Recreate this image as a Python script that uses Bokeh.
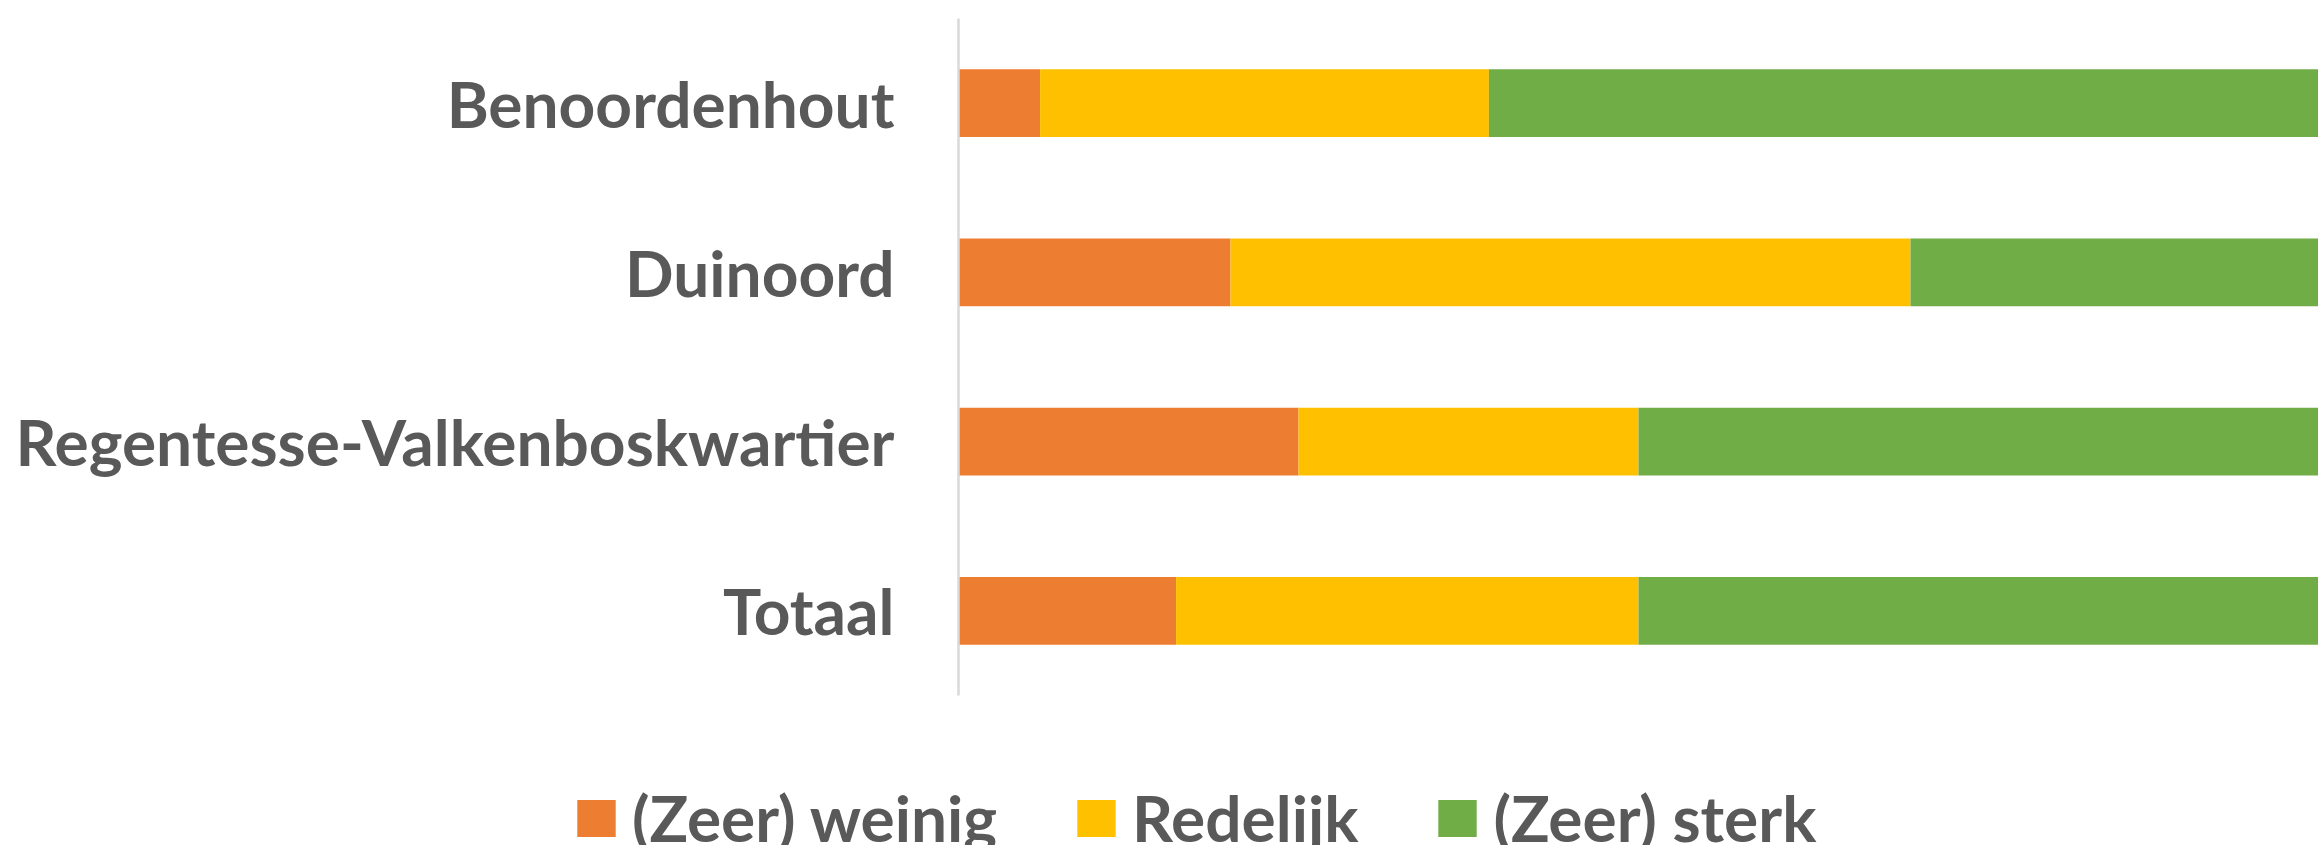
from bokeh.plotting import figure
from bokeh.models import Range1d, FactorRange, Legend, LegendItem, ColumnDataSource
from bokeh.embed import file_html
from bokeh.resources import INLINE

categories = ["Benoordenhout", "Duinoord", "Regentesse-Valkenboskwartier", "Totaal"]
weinig = [6, 20, 25, 16]
redelijk = [33, 50, 25, 34]
sterk = [61, 30, 50, 50]
series_labels = ["(Zeer) weinig", "Redelijk", "(Zeer) sterk"]
colors = ["#ED7D31", "#FFC000", "#70AD47"]
keys = ["weinig", "redelijk", "sterk"]

source = ColumnDataSource(dict(cat=categories, weinig=weinig, redelijk=redelijk, sterk=sterk))

FONT = "Lato"
TXT = "#595959"

# main chart
p = figure(width=2318, height=700,
           y_range=FactorRange(*reversed(categories)),
           x_range=Range1d(0, 100),
           output_backend="svg", toolbar_location=None,
           min_border_left=958, min_border_right=0,
           min_border_top=18, min_border_bottom=5)

p.hbar_stack(keys, y="cat", height=0.4, color=colors, line_color=None, source=source)

p.xaxis.visible = False
p.xgrid.visible = False
p.ygrid.visible = False
p.outline_line_color = None

ax = p.yaxis[0]
ax.axis_line_color = "#d9d9d9"
ax.axis_line_width = 2.5
ax.major_tick_line_color = None
ax.minor_tick_line_color = None
ax.major_tick_out = 0
ax.major_tick_in = 0
ax.major_label_standoff = 64
ax.major_label_text_font = FONT
ax.major_label_text_font_size = "64px"
ax.major_label_text_font_style = "bold"
ax.major_label_text_color = TXT

# legend strip (separate root, so its frame is not aligned to the chart's)
q = figure(width=2318, height=145,
           y_range=FactorRange(*reversed(categories)),
           x_range=Range1d(0, 100),
           output_backend="svg", toolbar_location=None,
           min_border_left=0, min_border_right=0,
           min_border_top=0, min_border_bottom=0)
q.axis.visible = False
q.grid.visible = False
q.outline_line_color = None
lrs = q.hbar_stack(keys, y="cat", height=0.4, color=colors, line_color=None, source=source)
for r in lrs:
    r.visible = False

items = [LegendItem(label=series_labels[i], renderers=[lrs[i]]) for i in range(3)]
legend = Legend(items=items, orientation="horizontal", location=(572, -11),
                glyph_width=48, glyph_height=46, label_standoff=12, spacing=75,
                padding=0, margin=0, border_line_color=None, background_fill_alpha=0,
                inactive_fill_alpha=0,
                label_text_font=FONT, label_text_font_size="64px",
                label_text_font_style="bold", label_text_color=TXT)
q.add_layout(legend, "center")

open("out.html", "w").write(file_html([p, q], INLINE))
